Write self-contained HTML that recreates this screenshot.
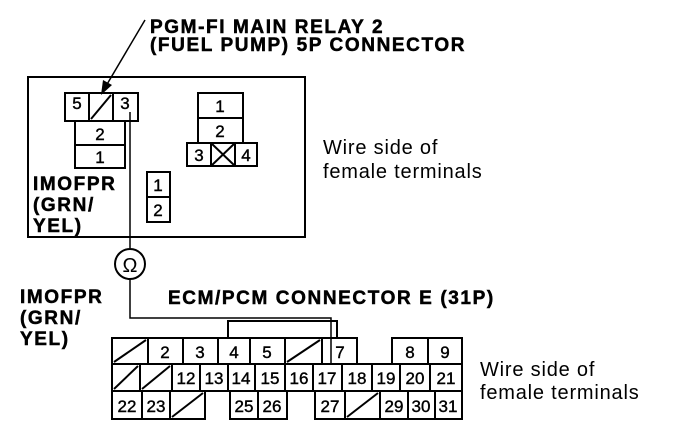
<!DOCTYPE html>
<html><head><style>
html,body{margin:0;padding:0;background:#fff;}
svg{display:block}
text{font-family:"Liberation Sans",sans-serif;fill:#000}
.b{font-weight:bold;font-size:19px;letter-spacing:1.6px;stroke:#000;stroke-width:0.5}
.n{font-size:17px;stroke:#000;stroke-width:0.4}
.w{font-size:20px;letter-spacing:0.8px}
</style></head><body>
<svg width="688" height="448" viewBox="0 0 688 448" xmlns="http://www.w3.org/2000/svg">
<g fill="none" stroke="#000" stroke-width="2">
<rect x="28" y="77" width="277" height="160"/>
<rect x="65" y="93" width="73" height="28"/>
<line x1="89" y1="93" x2="89" y2="121"/><line x1="113" y1="93" x2="113" y2="121"/>
<line x1="91" y1="119" x2="111" y2="95"/>
<rect x="75" y="121" width="50" height="24"/>
<rect x="75" y="145" width="50" height="23"/>
<rect x="198" y="93" width="45" height="25"/>
<rect x="198" y="118" width="45" height="25"/>
<rect x="187" y="143" width="70" height="23"/>
<line x1="211" y1="143" x2="211" y2="166"/><line x1="235" y1="143" x2="235" y2="166"/>
<line x1="211" y1="143" x2="235" y2="166"/><line x1="235" y1="143" x2="211" y2="166"/>
<rect x="147" y="172" width="23" height="50"/><line x1="147" y1="197" x2="170" y2="197"/>
<polyline stroke-width="1.5" points="130,112 130,248"/>
<circle cx="130" cy="264" r="15"/>
<polyline stroke-width="1.5" points="130,279 130,318 331,318 331,365"/>
<line x1="145" y1="20" x2="106" y2="86" stroke-width="1.5"/>
</g>
<polygon points="101,95 103,80 112,85" fill="#000"/>
<text x="130" y="272" text-anchor="middle" font-size="20" font-family="DejaVu Sans">Ω</text>

<g class="n" text-anchor="middle">
<text x="77" y="109">5</text><text x="125" y="109">3</text>
<text x="100" y="140">2</text><text x="100" y="163">1</text>
<text x="220" y="112">1</text><text x="220" y="137">2</text>
<text x="199" y="161">3</text><text x="246" y="161">4</text>
<text x="158" y="191">1</text><text x="158" y="216">2</text>
</g>

<text class="b" x="150" y="33">PGM-FI MAIN RELAY 2</text>
<text class="b" x="150" y="51">(FUEL PUMP) 5P CONNECTOR</text>
<text class="b" x="33" y="190">IMOFPR</text>
<text class="b" x="33" y="211">(GRN/</text>
<text class="b" x="33" y="232">YEL)</text>
<text class="b" x="20" y="303">IMOFPR</text>
<text class="b" x="20" y="324">(GRN/</text>
<text class="b" x="20" y="345">YEL)</text>
<text class="b" x="168" y="304">ECM/PCM CONNECTOR E (31P)</text>
<text class="w" x="323" y="154">Wire side of</text>
<text class="w" x="323" y="178">female terminals</text>
<text class="w" x="480" y="376">Wire side of</text>
<text class="w" x="480" y="399">female terminals</text>

<g fill="none" stroke="#000" stroke-width="2">
<polyline points="228,338 228,321 337,321 337,338"/>
<rect x="112" y="338" width="245" height="26"/>
<line x1="148" y1="338" x2="148" y2="364"/><line x1="183" y1="338" x2="183" y2="364"/>
<line x1="218" y1="338" x2="218" y2="364"/><line x1="250" y1="338" x2="250" y2="364"/>
<line x1="285" y1="338" x2="285" y2="364"/><line x1="322" y1="338" x2="322" y2="364"/>
<line x1="114" y1="362" x2="146" y2="340"/><line x1="287" y1="362" x2="320" y2="340"/>
<rect x="392" y="338" width="70" height="26"/><line x1="428" y1="338" x2="428" y2="364"/>
<rect x="112" y="364" width="350" height="27"/>
<line x1="140" y1="364" x2="140" y2="391"/><line x1="172" y1="364" x2="172" y2="391"/>
<line x1="200" y1="364" x2="200" y2="391"/><line x1="228" y1="364" x2="228" y2="391"/>
<line x1="255" y1="364" x2="255" y2="391"/><line x1="285" y1="364" x2="285" y2="391"/>
<line x1="313" y1="364" x2="313" y2="391"/><line x1="342" y1="364" x2="342" y2="391"/>
<line x1="372" y1="364" x2="372" y2="391"/><line x1="400" y1="364" x2="400" y2="391"/>
<line x1="430" y1="364" x2="430" y2="391"/>
<line x1="114" y1="389" x2="138" y2="366"/><line x1="142" y1="389" x2="170" y2="366"/>
<rect x="112" y="391" width="93" height="28"/>
<line x1="142" y1="391" x2="142" y2="419"/><line x1="170" y1="391" x2="170" y2="419"/>
<line x1="172" y1="417" x2="203" y2="393"/>
<rect x="230" y="391" width="57" height="28"/><line x1="258" y1="391" x2="258" y2="419"/>
<rect x="315" y="391" width="147" height="28"/>
<line x1="345" y1="391" x2="345" y2="419"/><line x1="380" y1="391" x2="380" y2="419"/>
<line x1="408" y1="391" x2="408" y2="419"/><line x1="435" y1="391" x2="435" y2="419"/>
<line x1="347" y1="417" x2="378" y2="393"/>
</g>
<g class="n" text-anchor="middle">
<text x="165" y="358">2</text><text x="200" y="358">3</text><text x="234" y="358">4</text>
<text x="267" y="358">5</text><text x="340" y="358">7</text>
<text x="410" y="358">8</text><text x="445" y="358">9</text>
<text x="186" y="384">12</text><text x="214" y="384">13</text><text x="241" y="384">14</text>
<text x="270" y="384">15</text><text x="299" y="384">16</text><text x="327" y="384">17</text>
<text x="357" y="384">18</text><text x="386" y="384">19</text><text x="415" y="384">20</text>
<text x="446" y="384">21</text>
<text x="127" y="412">22</text><text x="156" y="412">23</text>
<text x="244" y="412">25</text><text x="272" y="412">26</text>
<text x="330" y="412">27</text><text x="394" y="412">29</text>
<text x="421" y="412">30</text><text x="448" y="412">31</text>
</g>
</svg>
</body></html>
